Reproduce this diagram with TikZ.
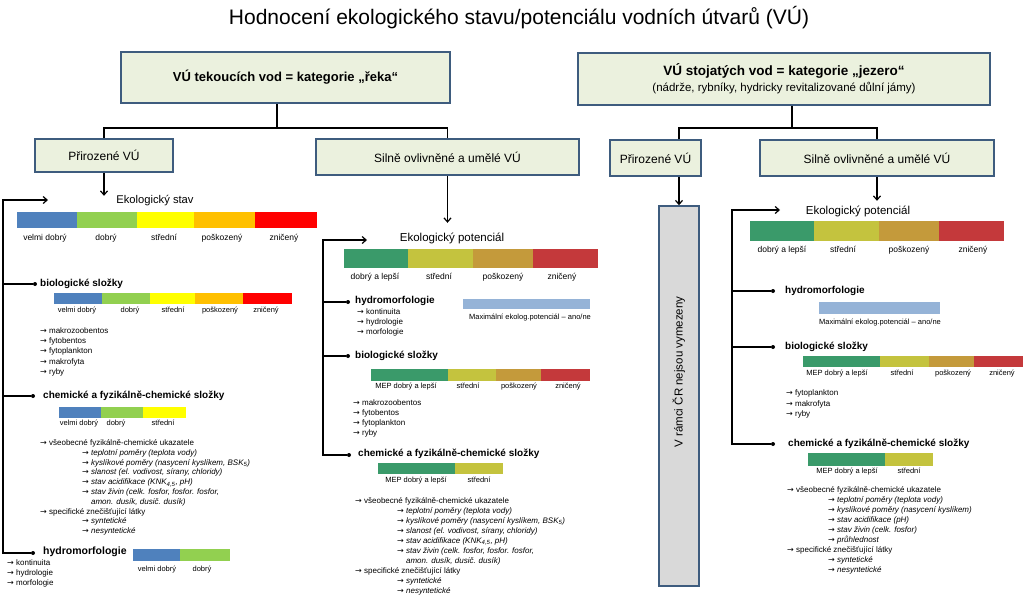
\documentclass[tikz,border=0pt]{standalone}
\usepackage{fontspec}
\setmainfont{Liberation Sans}
\newfontfamily\arrfont{DejaVu Sans}
\usetikzlibrary{arrows.meta}
\definecolor{boxfill}{HTML}{EBF1DE}
\definecolor{boxline}{HTML}{3E5C7E}
\definecolor{greyfill}{HTML}{D9D9D9}
\definecolor{sblue}{HTML}{4F81BD}
\definecolor{sgreen}{HTML}{92D050}
\definecolor{syellow}{HTML}{FFFF00}
\definecolor{sorange}{HTML}{FFC000}
\definecolor{sred}{HTML}{FF0000}
\definecolor{pgreen}{HTML}{3A9A6A}
\definecolor{polive}{HTML}{C4C33E}
\definecolor{ptan}{HTML}{C49A3B}
\definecolor{pred}{HTML}{C4393B}
\definecolor{maxblue}{HTML}{95B3D7}
\newcommand{\fs}[1]{\fontsize{#1}{#1}\selectfont}
\newcommand{\arr}{{\arrfont\upshape →}}
\begin{document}
\begin{tikzpicture}[x=1pt,y=-1pt,
  vubox/.style={draw=boxline,fill=boxfill,line width=1.5pt,inner sep=0pt},
  txt/.style={inner sep=0pt,text height=0.75em,text depth=0.25em},
  lbl/.style={txt,font=\fs{8.5}},
  sml/.style={txt,font=\fs{7.5}},
  item/.style={txt,anchor=west,font=\fs{8}},
  head/.style={txt,anchor=west,font=\fs{10}\bfseries},
  dot/.style={circle,fill,inner sep=0pt,minimum size=4pt},
  conn/.style={line width=1.2pt},
  >={Straight Barb[length=4pt,width=7pt]}]
\useasboundingbox (0,0) rectangle (1023,600);
\node[txt,font=\fs{21}] (title) at (519,22) {Hodnocení ekologického stavu/potenciálu vodních útvarů (VÚ)};
\node[vubox,minimum width=329pt,minimum height=51pt,font=\fs{13}\bfseries] (reka) at (285.5,77.5) {VÚ tekoucích vod = kategorie „řeka“};
\node[vubox,minimum width=412pt,minimum height=52pt,align=center] (jezero) at (784,79)
  {\fontsize{13.5}{15}\selectfont\bfseries VÚ stojatých vod = kategorie „jezero“\\[3pt]\fontsize{11.5}{13}\selectfont\mdseries (nádrže, rybníky, hydricky revitalizované důlní jámy)};
\node[vubox,minimum width=138pt,minimum height=33pt,font=\fs{12}] (prir1) at (104,155.5) {Přirozené VÚ};
\node[vubox,minimum width=263pt,minimum height=36pt,font=\fs{12}] (silne1) at (447.5,157) {Silně ovlivněné a umělé VÚ};
\node[vubox,minimum width=91pt,minimum height=36pt,font=\fs{12}] (prir2) at (655.5,158) {Přirozené VÚ};
\node[vubox,minimum width=234pt,minimum height=36pt,font=\fs{12}] (silne2) at (877,158) {Silně ovlivněné a umělé VÚ};
\node[draw=boxline,fill=greyfill,line width=1.5pt,minimum width=40pt,minimum height=380pt] (vymez) at (679,396) {};
\node[txt,rotate=90,font=\fs{11.5}] (vymeztxt) at (680,372) {V rámci ČR nejsou vymezeny};
\coordinate (j1) at (277,128);
\coordinate (j2) at (792,128);
\draw[conn] (reka.south -| j1) -- (j1);
\draw[conn] (prir1.north) |- (j1) -| (silne1.north);
\draw[conn] (jezero.south -| j2) -- (j2);
\draw[conn] (vymez.north |- prir2.north) |- (j2) -| (silne2.north);
\node[txt,font=\fs{11.2}] (stav1) at (155,201) {Ekologický stav};
\node[txt,font=\fs{11.5}] (pot1) at (452,239) {Ekologický potenciál};
\node[txt,font=\fs{11.5}] (pot2) at (858,212) {Ekologický potenciál};
\draw[conn,->] (prir1.south) -- (prir1.south |- stav1.north);
\draw[conn,->,shorten >=11pt] (silne1.south) -- (silne1.south |- pot1.north);
\draw[conn,->] (vymez.north |- prir2.south) -- (vymez.north);
\draw[conn,->,shorten >=6pt] (silne2.south) -- (silne2.south |- pot2.north);
% reka - prirozene
\node[dot] (db1) at (35,284) {};
\node[dot] (dc1) at (33,396) {};
\node[dot] (dh1) at (33,553) {};
\coordinate (sL) at (3,200);
\draw[conn,->] (dh1) -| (sL) -- ++(45,0);
\draw[conn] (db1) -- (db1 -| sL);
\draw[conn] (dc1) -- (dc1 -| sL);
\foreach \a/\b/\c in {17/77/sblue,77/137/sgreen,137/194/syellow,194/255/sorange,255/317/sred}{\fill[\c] (\a,212) rectangle (\b,228);}
\foreach \x/\t [count=\i] in {45/velmi dobrý,106/dobrý,164/střední,222/poškozený,284/zničený}{\node[lbl] (s1l\i) at (\x,238) {\t};}
\node[head] (bio1) at (40,284) {biologické složky};
\foreach \a/\b/\c in {54/102/sblue,102/150/sgreen,150/195/syellow,195/243/sorange,243/292/sred}{\fill[\c] (\a,293) rectangle (\b,304);}
\foreach \x/\t [count=\i] in {77/velmi dobrý,130/dobrý,173/střední,220/poškozený,266/zničený}{\node[sml] (b1l\i) at (\x,310) {\t};}
\foreach \y/\t [count=\i] in {331/makrozoobentos,341.2/fytobentos,351.4/fytoplankton,361.6/makrofyta,371.8/ryby}{\node[item] (b1i\i) at (40,\y) {\arr{} \t};}
\node[head] (chem1) at (43,396) {chemické a fyzikálně-chemické složky};
\foreach \a/\b/\c in {59/101/sblue,101/143/sgreen,143/186/syellow}{\fill[\c] (\a,407) rectangle (\b,418);}
\foreach \x/\t [count=\i] in {79/velmi dobrý,116/dobrý,163/střední}{\node[sml] (c1l\i) at (\x,423) {\t};}
\foreach \y/\t [count=\i] in {443/všeobecné fyzikálně-chemické ukazatele,511.6/specifické znečišťující látky}{\node[item] (c1i\i) at (40,\y) {\arr{} \t};}
\foreach \y/\t [count=\i] in {452.8/{teplotní poměry (teplota vody)},462.6/{kyslíkové poměry (nasycení kyslíkem, BSK\textsubscript{5})},472.4/{slanost (el. vodivost, sírany, chloridy)},482.2/{stav acidifikace (KNK\textsubscript{4,5}, pH)},492/{stav živin (celk. fosfor, fosfor. fosfor,},521.4/syntetické,531.2/nesyntetické}{\node[item] (c1s\i) at (82,\y) {\arr{} \textit{\t}};}
\node[item] (c1s8) at (82,501.8) {\phantom{\arr{} }\textit{amon. dusík, dusič. dusík)}};
\node[head,font=\fs{10.5}\bfseries] (hydro1) at (43,552) {hydromorfologie};
\foreach \a/\b/\c in {133/180/sblue,180/230/sgreen}{\fill[\c] (\a,549) rectangle (\b,561);}
\foreach \x/\t [count=\i] in {157/velmi dobrý,202/dobrý}{\node[sml] (h1l\i) at (\x,569) {\t};}
\foreach \y/\t [count=\i] in {563/kontinuita,573/hydrologie,583/morfologie}{\node[item] (h1i\i) at (7,\y) {\arr{} \t};}
% reka - silne ovlivnene
\node[dot] (dh2) at (348,302) {};
\node[dot] (db2) at (348,356) {};
\node[dot] (dc2) at (349,455) {};
\coordinate (sM) at (323,240);
\draw[conn,->] (dc2) -| (sM) -- ++(44,0);
\draw[conn] (dh2) -- (dh2 -| sM);
\draw[conn] (db2) -- (db2 -| sM);
\foreach \a/\b/\c in {344/408/pgreen,408/473/polive,473/533/ptan,533/598/pred}{\fill[\c] (\a,249) rectangle (\b,268);}
\foreach \x/\t [count=\i] in {375/dobrý a lepší,439/střední,503/poškozený,562/zničený}{\node[lbl] (p1l\i) at (\x,277) {\t};}
\node[head] (hydro2) at (355,301) {hydromorfologie};
\foreach \y/\t [count=\i] in {312/kontinuita,322/hydrologie,332/morfologie}{\node[item] (h2i\i) at (357,\y) {\arr{} \t};}
\fill[maxblue] (463,299) rectangle (590,309);
\node[sml] (max1) at (530,317) {Maximální ekolog.potenciál – ano/ne};
\node[head] (bio2) at (355,356) {biologické složky};
\foreach \a/\b/\c in {371/448/pgreen,448/496/polive,496/541/ptan,541/590/pred}{\fill[\c] (\a,369) rectangle (\b,381);}
\foreach \x/\t [count=\i] in {406/MEP dobrý a lepší,468/střední,519/poškozený,568/zničený}{\node[sml] (b2l\i) at (\x,386) {\t};}
\foreach \y/\t [count=\i] in {403/makrozoobentos,413/fytobentos,423/fytoplankton,433/ryby}{\node[item] (b2i\i) at (353,\y) {\arr{} \t};}
\node[head] (chem2) at (358,454) {chemické a fyzikálně-chemické složky};
\foreach \a/\b/\c in {378/455/pgreen,455/503/polive}{\fill[\c] (\a,463) rectangle (\b,474);}
\foreach \x/\t [count=\i] in {416/MEP dobrý a lepší,479/střední}{\node[sml] (c2l\i) at (\x,480) {\t};}
\foreach \y/\t [count=\i] in {501/všeobecné fyzikálně-chemické ukazatele,571/specifické znečišťující látky}{\node[item] (c2i\i) at (355,\y) {\arr{} \t};}
\foreach \y/\t [count=\i] in {511/{teplotní poměry (teplota vody)},521/{kyslíkové poměry (nasycení kyslíkem, BSK\textsubscript{5})},531/{slanost (el. vodivost, sírany, chloridy)},541/{stav acidifikace (KNK\textsubscript{4,5}, pH)},551/{stav živin (celk. fosfor, fosfor. fosfor,},581/syntetické,591/nesyntetické}{\node[item] (c2s\i) at (397,\y) {\arr{} \textit{\t}};}
\node[item] (c2s8) at (397,561) {\phantom{\arr{} }\textit{amon. dusík, dusič. dusík)}};
% jezero - silne ovlivnene
\node[dot] (dh3) at (773,291) {};
\node[dot] (db3) at (773,347) {};
\node[dot] (dc3) at (773,444) {};
\coordinate (sR) at (732,210);
\draw[conn,->] (dc3) -| (sR) -- ++(48,0);
\draw[conn] (dh3) -- (dh3 -| sR);
\draw[conn] (db3) -- (db3 -| sR);
\foreach \a/\b/\c in {750/814/pgreen,814/879/polive,879/939/ptan,939/1004/pred}{\fill[\c] (\a,221) rectangle (\b,241);}
\foreach \x/\t [count=\i] in {782/dobrý a lepší,843/střední,909/poškozený,973/zničený}{\node[lbl] (p2l\i) at (\x,250) {\t};}
\node[head] (hydro3) at (785,291) {hydromorfologie};
\fill[maxblue] (819,302) rectangle (940,314);
\node[sml] (max2) at (880,322) {Maximální ekolog.potenciál – ano/ne};
\node[head] (bio3) at (785,347) {biologické složky};
\foreach \a/\b/\c in {803/880/pgreen,880/929/polive,929/974/ptan,974/1030/pred}{\fill[\c] (\a,356) rectangle (\b,367);}
\foreach \x/\t [count=\i] in {837/MEP dobrý a lepší,902/střední,953/poškozený,1002/zničený}{\node[sml] (b3l\i) at (\x,373) {\t};}
\foreach \y/\t [count=\i] in {393/fytoplankton,404/makrofyta,414/ryby}{\node[item] (b3i\i) at (786,\y) {\arr{} \t};}
\node[head] (chem3) at (788,444) {chemické a fyzikálně-chemické složky};
\foreach \a/\b/\c in {808/885/pgreen,885/933/polive}{\fill[\c] (\a,453) rectangle (\b,466);}
\foreach \x/\t [count=\i] in {847/MEP dobrý a lepší,909/střední}{\node[sml] (c3l\i) at (\x,471) {\t};}
\foreach \y/\t [count=\i] in {490/všeobecné fyzikálně-chemické ukazatele,550/specifické znečišťující látky}{\node[item] (c3i\i) at (787,\y) {\arr{} \t};}
\foreach \y/\t [count=\i] in {500/{teplotní poměry (teplota vody)},510/{kyslíkové poměry (nasycení kyslíkem)},520/{stav acidifikace (pH)},530/{stav živin (celk. fosfor)},540/průhlednost,560/syntetické,570/nesyntetické}{\node[item] (c3s\i) at (828,\y) {\arr{} \textit{\t}};}
\end{tikzpicture}
\end{document}
